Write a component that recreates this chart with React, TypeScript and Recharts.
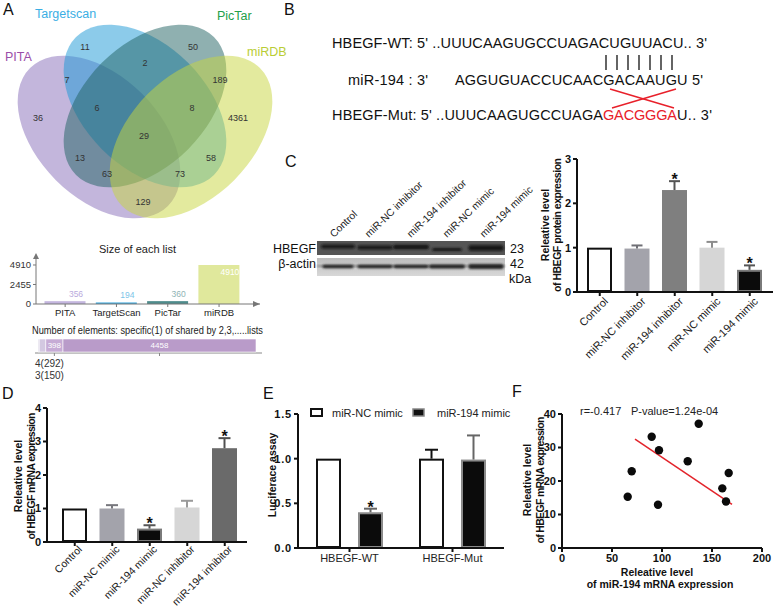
import React from 'react';
import { BarChart, Bar, XAxis, YAxis, ScatterChart, Scatter, LabelList } from 'recharts';

const FONT = '"Liberation Sans", Arial, Helvetica, sans-serif';

// ---------- data ----------
// A: Venn of predicted targets
const vennNames = ['PITA', 'Targetscan', 'PicTar', 'miRDB'];
const vennCounts = [36, 11, 50, 4361, 7, 2, 189, 13, 58, 129, 6, 8, 63, 73, 29];

// A: size of each list
const listNames = ['PITA', 'TargetScan', 'PicTar', 'miRDB'];
const listSizes = [356, 194, 360, 4910];
const listTicks = [0, 2455, 4910];

// A: elements shared by n lists
const sharedLevels = ['4', '3', '2', '1'];
const sharedCounts = [29, 150, 398, 4458];

// C: western blot quantification
const proteinGroups = ['Control', 'miR-NC inhibitor', 'miR-194 inhibitor', 'miR-NC mimic', 'miR-194 mimic'];
const proteinMean = [1.0, 0.98, 2.3, 1.0, 0.5];
const proteinSem = [0, 0.07, 0.2, 0.13, 0.1];
const proteinSig = [false, false, true, false, true];
const proteinTicks = [0, 1, 2, 3];

// D: qPCR
const mrnaGroups = ['Control', 'miR-NC mimic', 'miR-194 mimic', 'miR-NC inhibitor', 'miR-194 inhibitor'];
const mrnaMean = [1.0, 1.0, 0.4, 1.03, 2.8];
const mrnaSem = [0, 0.1, 0.1, 0.2, 0.3];
const mrnaSig = [false, false, true, false, true];
const mrnaTicks = [0, 1, 2, 3, 4];

// E: luciferase
const lucGroups = ['HBEGF-WT', 'HBEGF-Mut'];
const lucNcMean = [1.0, 1.0];
const lucNcSem = [0, 0.1];
const lucMirMean = [0.4, 0.99];
const lucMirSem = [0.04, 0.27];
const lucMirSig = [true, false];
const lucTicks = [0, 0.5, 1, 1.5];

// F: correlation
const mir194Level = [65.7, 69.7, 89.7, 96, 97, 125.7, 136.7, 160.3, 164, 166.7];
const hbegfLevel = [15.3, 22.9, 33.2, 12.9, 29.2, 25.9, 37.1, 17.8, 13.9, 22.4];
const fitX = [73, 170];
const fitY = [32.5, 13.0];
const corrXTicks = [0, 50, 100, 150, 200];
const corrYTicks = [0, 10, 20, 30, 40];

// ---------- styles ----------
const vennFill = ['#876db9', '#1997d5', '#1f6161', '#c7d53d'];
const vennText = ['#9b4ea8', '#3aaee4', '#22a04a', '#b9cd35'];
const vennShape = [
  { cx: 99, cy: 137, rot: 45 },
  { cx: 145, cy: 106, rot: 45 },
  { cx: 145, cy: 106, rot: -45 },
  { cx: 191, cy: 137, rot: -45 },
];
const vennLabelPos = [[5, 61], [35, 18], [217, 20], [247, 56]];
const vennCountPos = [
  [38, 118], [85, 47], [193, 47], [238, 118], [67, 80], [145, 63], [220, 80],
  [80, 158], [211, 158], [143, 202], [97, 108], [192, 108], [107, 174], [180, 174], [144, 136],
];
const listFill = ['#c4b6df', '#3eaade', '#4e8c8c', '#e0e89c'];
const listLabelFill = ['#b9aadd', '#7cc4e8', '#8fb4b4', '#ffffff'];
const sharedFill = ['#ddd7e7', '#d3c8e1', '#c6abd5', '#b99bc9'];

const proteinFill = ['#ffffff', '#a3a3ab', '#7f7f7f', '#d6d6d6', '#0b0b0b'];
const proteinStroke = ['#111111', null, null, null, '#7a7a7a'];
const proteinWhisker = ['#111', '#6f6f75', '#555', '#8c8c8c', '#555'];
const mrnaFill = ['#ffffff', '#a3a3ab', '#0b0b0b', '#d6d6d6', '#6a6a6a'];
const mrnaStroke = ['#111111', null, '#7a7a7a', null, null];
const mrnaWhisker = ['#111', '#77777d', '#555', '#9a9a9a', '#505050'];

const axisLine = { stroke: '#111', strokeWidth: 2 };
const tickLine = { stroke: '#111', strokeWidth: 2 };
const boldTick = { fontSize: 11, fontWeight: 700, fill: '#111' };

// ---------- helpers ----------
function errorBarShape(cfg: any) {
  return (p: any) => {
    const { x, y, width, height, index, payload } = p;
    const v = payload[cfg.valueKey];
    const e = payload[cfg.errKey] || 0;
    const base = y + height;
    const per = v > 0 ? height / v : 0;
    const top = base - (v + e) * per;
    const cx = x + width / 2;
    const stroke = cfg.strokes[index];
    const sw = 2;
    return (
      <g>
        {stroke ? (
          <rect x={x + sw / 2} y={y + sw / 2} width={width - sw} height={Math.max(0, height - sw)}
            fill={cfg.fills[index]} stroke={stroke} strokeWidth={sw} />
        ) : (
          <rect x={x} y={y} width={width} height={height} fill={cfg.fills[index]} />
        )}
        {e > 0 && (
          <g stroke={cfg.whiskers[index]} strokeWidth={2}>
            <line x1={cx} y1={y} x2={cx} y2={top} />
            <line x1={cx - cfg.cap / 2} y1={top} x2={cx + cfg.cap / 2} y2={top} />
          </g>
        )}
        {payload[cfg.sigKey] && (
          <text x={cx} y={(e > 0 ? top : y) + 4} textAnchor="middle" fontSize={16} fontWeight={700} fill="#111">*</text>
        )}
      </g>
    );
  };
}

const slantTick = (dx: number, dy: number, size: number) => (p: any) => (
  <text x={0} y={0} transform={`translate(${p.x + dx},${p.y + dy}) rotate(-45)`}
    textAnchor="end" fontSize={size} fill="#1a1a1a">{p.payload.value}</text>
);

// ---------- overlay: Venn, sequences, blot, titles ----------
function Overlay() {
  const blotLaneX = [338, 375, 411, 447, 486];
  const hbW = [34, 35, 36, 30, 35];
  const hbH = [4, 4, 4.5, 3, 5.5];
  const hbY = [246.5, 247.5, 247, 249.5, 248];
  const acW = [31, 35, 35, 36, 35];
  const acH = [3.5, 3.5, 3.5, 4, 5];
  const pairX = [606, 617, 628, 639, 650, 661, 672];
  const laneLabelPos = [[334, 238], [369, 238], [411, 238], [447, 238], [484, 238]];
  const letters: [string, number, number][] = [['A', 3, 15], ['B', 284, 15], ['C', 285, 167], ['D', 2, 399], ['E', 263, 399], ['F', 512, 397]];
  return (
    <svg width={777} height={609} style={{ position: 'absolute', left: 0, top: 0 }} fontFamily={FONT}>
      <defs>
        <filter id="bandBlur" x="-20%" y="-100%" width="140%" height="300%">
          <feGaussianBlur stdDeviation="1.2" />
        </filter>
        <linearGradient id="actinBg" x1="0" y1="0" x2="0" y2="1">
          <stop offset="0" stopColor="#bdbdbd" />
          <stop offset="1" stopColor="#d8d8d8" />
        </linearGradient>
      </defs>
      {letters.map(([t, x, y]) => (
        <text key={t} x={x} y={y} fontSize={16} fill="#111">{t}</text>
      ))}

      {/* Venn */}
      {vennShape.map((s, i) => (
        <g key={vennNames[i]} transform={`translate(${s.cx},${s.cy}) rotate(${s.rot})`}>
          <ellipse rx={97.5} ry={61} fill={vennFill[i]} fillOpacity={0.5} />
        </g>
      ))}
      {vennNames.map((n, i) => (
        <text key={n} x={vennLabelPos[i][0]} y={vennLabelPos[i][1]} fontSize={12.5} fill={vennText[i]}>{n}</text>
      ))}
      {vennCounts.map((c, i) => (
        <text key={i} x={vennCountPos[i][0]} y={vennCountPos[i][1]} fontSize={9} fill="#333"
          textAnchor="middle" dominantBaseline="central">{c}</text>
      ))}

      {/* A lower titles and arrows */}
      <text x={137.5} y={253} fontSize={11} fill="#222" textAnchor="middle">Size of each list</text>
      <polygon points="33,259 36,253 39,259" fill="#777" />
      <polygon points="253,301 260,304 253,307" fill="#777" />
      <text x={32} y={334} fontSize={10} fill="#222" textLength={231} lengthAdjust="spacingAndGlyphs">
        Number of elements: specific(1) of shared by 2,3,.....lists
      </text>
      <line x1={35} y1={353} x2={262} y2={353} stroke="#888" strokeWidth={1} />

      {/* B sequences */}
      <text x={332} y={48} fontSize={14.5} fill="#111" textLength={375} lengthAdjust="spacing">
        HBEGF-WT: 5' ..UUUCAAGUGCCUAGACUGUUACU.. 3'
      </text>
      {pairX.map((x) => (
        <line key={x} x1={x} y1={55} x2={x} y2={70} stroke="#111" strokeWidth={1.3} />
      ))}
      <text x={348} y={85} fontSize={14.5} fill="#111" textLength={80} lengthAdjust="spacing">miR-194 : 3'</text>
      <text x={455} y={85} fontSize={14.5} fill="#111" textLength={248} lengthAdjust="spacing">AGGUGUACCUCAACGACAAUGU 5'</text>
      <line x1={610} y1={89} x2={674} y2={108} stroke="#e8202a" strokeWidth={1.5} />
      <line x1={612} y1={108} x2={676} y2={89} stroke="#e8202a" strokeWidth={1.5} />
      <text x={332} y={120} fontSize={14.5} fill="#111" textLength={271} lengthAdjust="spacing">HBEGF-Mut: 5' ..UUUCAAGUGCCUAGA</text>
      <text x={603} y={120} fontSize={14.5} fill="#e8202a" textLength={74} lengthAdjust="spacing">GACGGGA</text>
      <text x={677} y={120} fontSize={14.5} fill="#111" textLength={35} lengthAdjust="spacing">U.. 3'</text>

      {/* C blot */}
      {proteinGroups.map((g, i) => (
        <text key={g} transform={`translate(${laneLabelPos[i][0]},${laneLabelPos[i][1]}) rotate(-44)`}
          fontSize={10.3} fill="#222">{g}</text>
      ))}
      <rect x={317} y={241} width={188} height={14} fill="#555555" />
      <rect x={317} y={258} width={188} height={18} fill="url(#actinBg)" />
      <rect x={317} y={265.5} width={188} height={1.2} fill="#6a6a6a" filter="url(#bandBlur)" />
      {blotLaneX.map((x, i) => (
        <rect key={'h' + i} x={x - hbW[i] / 2} y={hbY[i] - hbH[i] / 2} width={hbW[i]} height={hbH[i]}
          rx={2} fill="#151515" filter="url(#bandBlur)" />
      ))}
      {blotLaneX.map((x, i) => (
        <rect key={'a' + i} x={x - acW[i] / 2} y={266.5 - acH[i] / 2} width={acW[i]} height={acH[i]}
          rx={2} fill="#262626" filter="url(#bandBlur)" />
      ))}
      <text x={316} y={253} fontSize={12.5} fill="#111" textAnchor="end">HBEGF</text>
      <text x={316} y={268} fontSize={12.5} fill="#111" textAnchor="end">β-actin</text>
      <text x={510} y={253} fontSize={12.5} fill="#111">23</text>
      <text x={510} y={268} fontSize={12.5} fill="#111">42</text>
      <text x={509} y={283} fontSize={12.5} fill="#111">kDa</text>

      {/* axis titles */}
      <g fontWeight={700} fill="#111" fontSize={10.5}>
        <text transform="translate(545,225) rotate(-90)" textAnchor="middle" dominantBaseline="central">Releative level</text>
        <text transform="translate(557,225) rotate(-90)" textAnchor="middle" dominantBaseline="central" textLength={134} lengthAdjust="spacing">of HBEGF protein expression</text>
        <text transform="translate(18,476) rotate(-90)" textAnchor="middle" dominantBaseline="central">Releative level</text>
        <text transform="translate(31,476) rotate(-90)" textAnchor="middle" dominantBaseline="central" textLength={127} lengthAdjust="spacing">of HBEGF mRNA expression</text>
        <text transform="translate(272,475) rotate(-90)" textAnchor="middle" dominantBaseline="central">Luciferace assay</text>
        <text transform="translate(527,480) rotate(-90)" textAnchor="middle" dominantBaseline="central">Releative level</text>
        <text transform="translate(540,480) rotate(-90)" textAnchor="middle" dominantBaseline="central" textLength={127} lengthAdjust="spacing">of HBEGF mRNA expression</text>
        <text x={657} y={576} textAnchor="middle">Releative level</text>
        <text x={660} y={588} textAnchor="middle">of miR-194 mRNA expression</text>
      </g>

      {/* E legend */}
      <rect x={311} y={409} width={11} height={7} fill="#fff" stroke="#111" strokeWidth={2} />
      <text x={332} y={417} fontSize={11} fill="#222">miR-NC mimic</text>
      <rect x={413} y={409} width={11} height={7} fill="#111" stroke="#888" strokeWidth={1.5} />
      <text x={437} y={417} fontSize={11} fill="#222">miR-194 mimic</text>

      {/* F annotation */}
      <text x={580} y={415} fontSize={11} fill="#222">r=-0.417</text>
      <text x={631} y={415} fontSize={11} fill="#222">P-value=1.24e-04</text>
    </svg>
  );
}

// ---------- charts ----------
function ListSizeChart() {
  const rows = listNames.map((name, i) => ({ name, size: listSizes[i] }));
  return (
    <BarChart width={270} height={80} data={rows} margin={{ top: 9.75, right: 10, bottom: 0, left: 0 }} barSize={41}>
      <XAxis dataKey="name" interval={0} height={21} padding={{ left: 3.5, right: 15.3 }}
        axisLine={{ stroke: '#777' }} tickLine={{ stroke: '#777' }} tickSize={3}
        tick={{ fontSize: 9.5, fill: '#222' }} />
      <YAxis width={36} domain={[0, 6200]} ticks={listTicks} axisLine={{ stroke: '#777' }}
        tickLine={{ stroke: '#777' }} tickSize={3} tick={{ fontSize: 9.5, fill: '#333' }} />
      <Bar dataKey="size" isAnimationActive={false}
        shape={(p: any) => <rect x={p.x} y={p.y} width={p.width} height={p.height} fill={listFill[p.index]} />}>
        <LabelList dataKey="size" content={(p: any) => {
          const i = listSizes.indexOf(p.value);
          const inside = p.value > 2000;
          return (
            <text x={p.x + p.width / 2 + 11} y={inside ? p.y + 10 : p.y - 4} fontSize={8.5}
              textAnchor="middle" fill={listLabelFill[i]}>{p.value}</text>
          );
        }} />
      </Bar>
    </BarChart>
  );
}

function SharedChart() {
  const row: any = { name: 'shared' };
  sharedLevels.forEach((l, i) => { row['s' + l] = sharedCounts[i]; });
  const total = sharedCounts.reduce((a, b) => a + b, 0);
  let acc = 0;
  const mids = sharedCounts.map((c) => { const m = acc + c / 2; acc += c; return m; });
  return (
    <BarChart layout="vertical" width={240} height={50} data={[row]} margin={{ top: 5, right: 8, bottom: 0, left: 5 }} barSize={13}>
      <XAxis type="number" domain={[0, total]} ticks={mids} padding={{ left: 3, right: 6 }} height={30}
        axisLine={false} tickLine={{ stroke: '#888' }} tickSize={3}
        tick={(p: any) => {
          const i = p.index;
          if (i === 0) return <text x={5} y={p.y + 9} fontSize={10} fill="#333">4(292)</text>;
          if (i === 1) return <text x={5} y={p.y + 21} fontSize={10} fill="#333">3(150)</text>;
          if (i === 3) return <text x={p.x} y={p.y + 7} fontSize={10} fill="#333" textAnchor="middle">1</text>;
          return <g />;
        }} />
      <YAxis type="category" dataKey="name" hide />
      {sharedLevels.map((l, i) => (
        <Bar key={l} dataKey={'s' + l} stackId="a" fill={sharedFill[i]} stroke="#ffffff" strokeWidth={0.6} isAnimationActive={false}>
          {i >= 2 && <LabelList dataKey={'s' + l} position="center" fill="#fff" fontSize={8} />}
        </Bar>
      ))}
    </BarChart>
  );
}

function ProteinChart() {
  const rows = proteinGroups.map((name, i) => ({ name, mean: proteinMean[i], err: proteinSem[i], sig: proteinSig[i] }));
  return (
    <BarChart width={257} height={235} data={rows} margin={{ top: 19, right: 4, bottom: 0, left: 0 }} barSize={25}>
      <XAxis dataKey="name" interval={0} height={83} padding={{ left: 4, right: 4.5 }}
        axisLine={axisLine} tickLine={tickLine} tickSize={4} tick={slantTick(9, 4, 11)} />
      <YAxis width={57} domain={[0, 3]} ticks={proteinTicks} axisLine={axisLine} tickLine={tickLine}
        tickSize={4} tick={boldTick} />
      <Bar dataKey="mean" isAnimationActive={false}
        shape={errorBarShape({ valueKey: 'mean', errKey: 'err', sigKey: 'sig', fills: proteinFill, strokes: proteinStroke, whiskers: proteinWhisker, cap: 11 })} />
    </BarChart>
  );
}

function MrnaChart() {
  const rows = mrnaGroups.map((name, i) => ({ name, mean: mrnaMean[i], err: mrnaSem[i], sig: mrnaSig[i] }));
  return (
    <BarChart width={250} height={229} data={rows} margin={{ top: 18, right: 3, bottom: 0, left: 0 }} barSize={25}>
      <XAxis dataKey="name" interval={0} height={77} padding={{ left: 9, right: 3.5 }}
        axisLine={axisLine} tickLine={tickLine} tickSize={4} tick={slantTick(8, 2, 10.5)} />
      <YAxis width={47} domain={[0, 4]} ticks={mrnaTicks} axisLine={axisLine} tickLine={tickLine}
        tickSize={4} tick={boldTick} />
      <Bar dataKey="mean" isAnimationActive={false}
        shape={errorBarShape({ valueKey: 'mean', errKey: 'err', sigKey: 'sig', fills: mrnaFill, strokes: mrnaStroke, whiskers: mrnaWhisker, cap: 12 })} />
    </BarChart>
  );
}

function LuciferaseChart() {
  const rows = lucGroups.map((name, i) => ({
    name, nc: lucNcMean[i], ncErr: lucNcSem[i], mir: lucMirMean[i], mirErr: lucMirSem[i], ncSig: false, mirSig: lucMirSig[i],
  }));
  return (
    <BarChart width={290} height={190} data={rows} margin={{ top: 24, right: 16, bottom: 0, left: 0 }} barSize={25} barGap={17}>
      <XAxis dataKey="name" interval={0} height={32} axisLine={axisLine} tickLine={tickLine} tickSize={4}
        tick={{ fontSize: 11, fill: '#222' }} />
      <YAxis width={68} domain={[0, 1.5]} ticks={lucTicks} tickFormatter={(v: number) => v.toFixed(1)}
        axisLine={axisLine} tickLine={tickLine} tickSize={4} tick={{ ...boldTick, letterSpacing: 0.8 }} />
      <Bar dataKey="nc" isAnimationActive={false}
        shape={errorBarShape({ valueKey: 'nc', errKey: 'ncErr', sigKey: 'ncSig', fills: ['#fff', '#fff'], strokes: ['#111', '#111'], whiskers: ['#111', '#111'], cap: 13 })} />
      <Bar dataKey="mir" isAnimationActive={false}
        shape={errorBarShape({ valueKey: 'mir', errKey: 'mirErr', sigKey: 'mirSig', fills: ['#0b0b0b', '#0b0b0b'], strokes: ['#8a8a8a', '#8a8a8a'], whiskers: ['#666', '#666'], cap: 13 })} />
    </BarChart>
  );
}

function CorrelationChart() {
  const points = mir194Level.map((x, i) => ({ x, y: hbegfLevel[i] }));
  const fit = fitX.map((x, i) => ({ x, y: fitY[i] }));
  return (
    <ScatterChart width={277} height={219} margin={{ top: 24, right: 15, bottom: 0, left: 0 }}>
      <XAxis type="number" dataKey="x" domain={[0, 200]} ticks={corrXTicks} height={61}
        axisLine={axisLine} tickLine={tickLine} tickSize={4} tick={boldTick} />
      <YAxis type="number" dataKey="y" domain={[0, 40]} ticks={corrYTicks} width={62}
        axisLine={axisLine} tickLine={tickLine} tickSize={4} tick={boldTick} />
      <Scatter data={fit} isAnimationActive={false} line={{ stroke: '#e3242b', strokeWidth: 1.5 }} shape={() => <g />} />
      <Scatter data={points} isAnimationActive={false}
        shape={(p: any) => <circle cx={p.cx} cy={p.cy} r={4.2} fill="#0a0a0a" />} />
    </ScatterChart>
  );
}

export default function App() {
  return (
    <div style={{ position: 'absolute', left: 0, top: 0, width: 777, height: 609, overflow: 'hidden', background: '#fff', fontFamily: FONT }}>
      <Overlay />
      <div style={{ position: 'absolute', left: 0, top: 245 }}><ListSizeChart /></div>
      <div style={{ position: 'absolute', left: 30, top: 333 }}><SharedChart /></div>
      <div style={{ position: 'absolute', left: 520, top: 140 }}><ProteinChart /></div>
      <div style={{ position: 'absolute', left: 0, top: 390 }}><MrnaChart /></div>
      <div style={{ position: 'absolute', left: 230, top: 390 }}><LuciferaseChart /></div>
      <div style={{ position: 'absolute', left: 500, top: 390 }}><CorrelationChart /></div>
    </div>
  );
}
